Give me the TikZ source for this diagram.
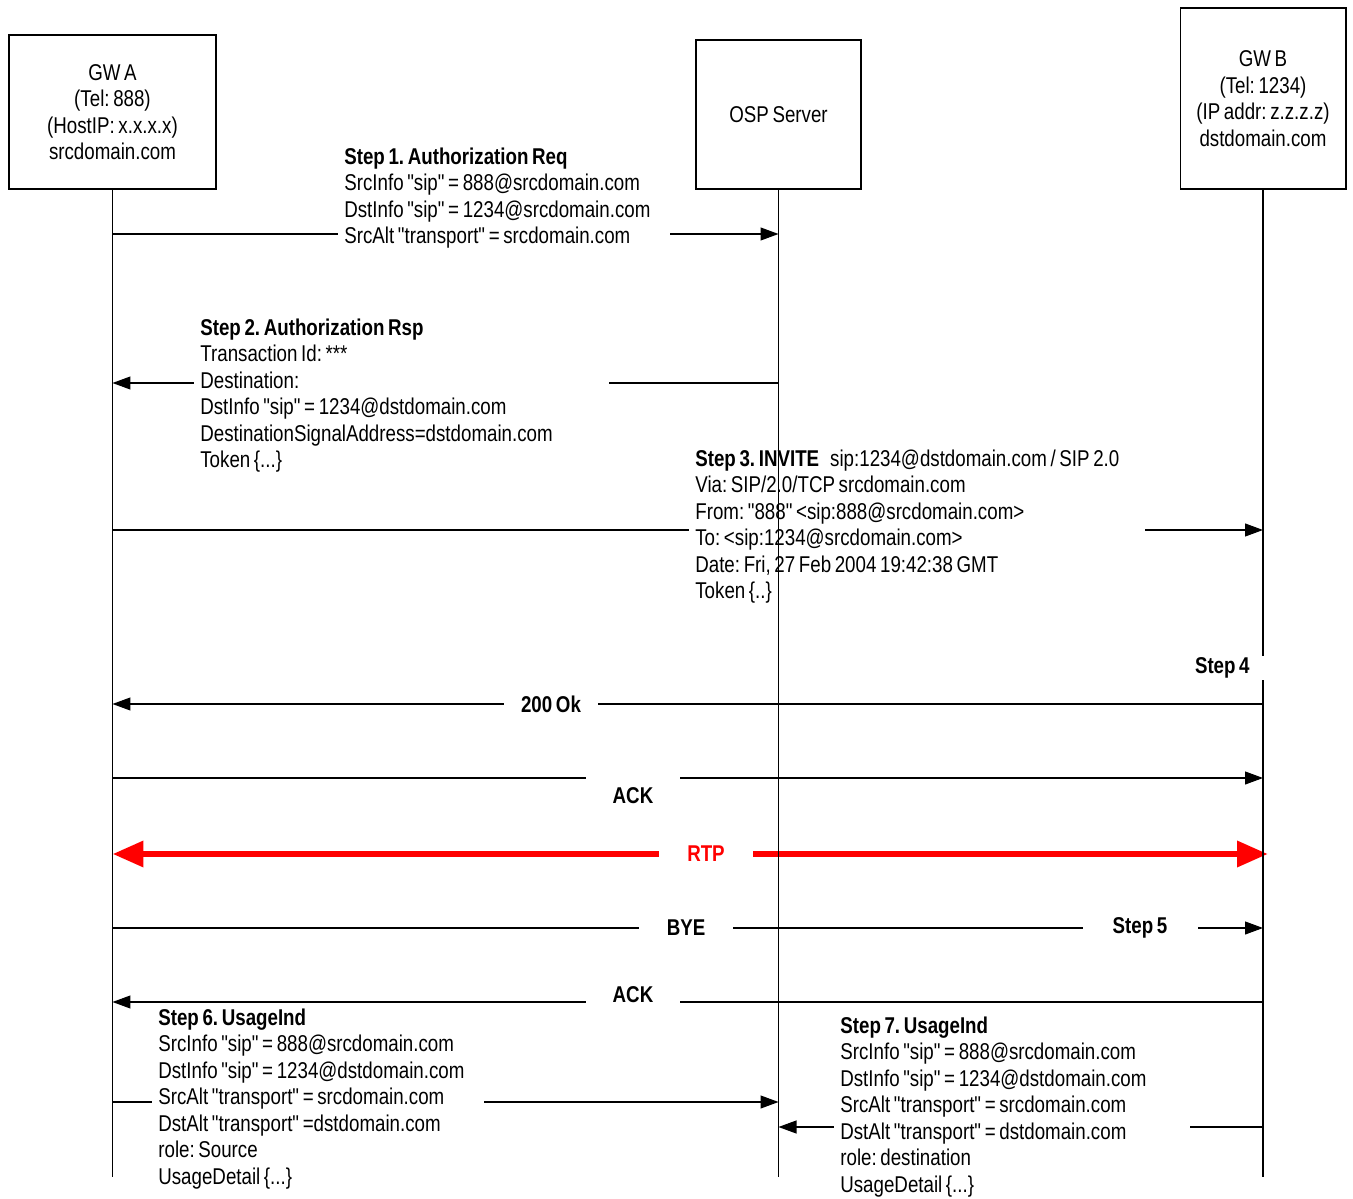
\documentclass[tikz,border=0pt]{standalone}
\usepackage{fontspec}
\setmainfont{Liberation Sans}[FakeStretch=0.82,WordSpace=0.7,Ligatures=TeXOff]
\usetikzlibrary{arrows.meta}
\frenchspacing

\begin{document}
\begin{tikzpicture}[x=0.02cm,y=-0.02cm,font=\fontsize{13}{15.08}\selectfont,
    box/.style={draw,line width=0.6pt,align=center,inner sep=0pt},
    life/.style={line width=0.6pt},
    msg/.style={line width=0.6pt,-{Triangle[length=0.36cm,width=0.26cm]}},
    note/.style={fill=white,anchor=north west,align=left,inner xsep=0.12cm,inner ysep=0.1cm,
      execute at begin node={\spaceskip=0pt\xspaceskip=0pt}},
    tag/.style={fill=white,font=\fontsize{13}{15.08}\selectfont\bfseries,minimum width=1.88cm,inner sep=0.1cm},
    rtp/.style={red,line width=0.13cm,{Triangle[length=0.62cm,width=0.5cm]}-{Triangle[length=0.62cm,width=0.5cm]}}]
    \useasboundingbox (0,0) rectangle (1353,1199);

    % the three parties
    \node[box,minimum width=4.14cm,minimum height=3.08cm] (gwa) at (112.5,112)
      {GW A\\(Tel: 888)\\(HostIP: x.x.x.x)\\srcdomain.com};
    \node[box,minimum width=3.3cm,minimum height=2.98cm] (osp) at (778.5,114.5) {OSP Server};
    \node[box,minimum width=3.32cm,minimum height=3.62cm] (gwb) at (1263,98.5)
      {GW B\\(Tel: 1234)\\(IP addr: z.z.z.z)\\dstdomain.com};

    \coordinate (bot) at (0,1177);
    \foreach \n/\y in {1/234,2/383,3/530,4/704,5/778,6/854,7/928,8/1002,9/1102,10/1127}
      \coordinate (y\n) at (0,\y);

    % Step 1
    \draw[msg] (gwa |- y1) -- (osp |- y1);
    \node[note,text width=6.4cm] (req) at (338,142.4)
      {\textbf{Step 1. Authorization Req}\\
       SrcInfo "sip" = 888@srcdomain.com\\
       DstInfo "sip" = 1234@srcdomain.com\\
       SrcAlt "transport" = srcdomain.com};

    % Step 2
    \draw[msg] (osp |- y2) -- (gwa |- y2);
    \node[note,text width=8.06cm] (rsp) at (194,313.4)
      {\textbf{Step 2. Authorization Rsp}\\
       Transaction Id: ***\\
       Destination:\\
       DstInfo "sip" = 1234@dstdomain.com\\
       DestinationSignalAddress=dstdomain.com\\
       Token \{...\}};

    % Step 3
    \draw[msg] (gwa |- y3) -- (gwb |- y3);
    \node[note,text width=8.88cm] (invite) at (689,444.4)
      {\textbf{Step 3. INVITE}\hspace{0.22cm}sip:1234@dstdomain.com / SIP 2.0\\
       Via: SIP/2.0/TCP srcdomain.com\\
       From: "888" <sip:888@srcdomain.com>\\
       To: <sip:1234@srcdomain.com>\\
       Date: Fri, 27 Feb 2004 19:42:38 GMT\\
       Token \{..\}};

    % call set-up and release
    \draw[msg] (gwb |- y4) -- (gwa |- y4);
    \node[tag] (ok) at (551,704) {200 Ok};
    \draw[msg] (gwa |- y5) -- (gwb |- y5);
    \node[tag,minimum height=0.9cm] (ack) at (633,796) {ACK};
    \draw[rtp] (gwa |- y6) -- ([xshift=0.1cm]gwb |- y6);
    \node[tag,text=red] (media) at (706,854) {RTP};
    \draw[msg] (gwa |- y7) -- (gwb |- y7);
    \node[tag] (bye) at (686,928) {BYE};
    \node[tag,minimum width=2.3cm] (step5) at (1140,928) {Step 5};
    \draw[msg] (gwb |- y8) -- (gwa |- y8);
    \node[tag] (byeack) at (633,995) {ACK};

    % Step 6 and 7
    \draw[msg] (gwa |- y9) -- (osp |- y9);
    \node[note,text width=6.4cm] (srcuse) at (152,1003.4)
      {\textbf{Step 6. UsageInd}\\
       SrcInfo "sip" = 888@srcdomain.com\\
       DstInfo "sip" = 1234@dstdomain.com\\
       SrcAlt "transport" = srcdomain.com\\
       DstAlt "transport" =dstdomain.com\\
       role: Source\\
       UsageDetail \{...\}};
    \draw[msg] (gwb |- y10) -- (osp |- y10);
    \node[note,text width=6.88cm] (dstuse) at (834,1011.4)
      {\textbf{Step 7. UsageInd}\\
       SrcInfo "sip" = 888@srcdomain.com\\
       DstInfo "sip" = 1234@dstdomain.com\\
       SrcAlt "transport" = srcdomain.com\\
       DstAlt "transport" = dstdomain.com\\
       role: destination\\
       UsageDetail \{...\}};

    % lifelines
    \draw[life] (gwa.south) -- (gwa |- bot);
    \draw[life] (osp.south) -- (osp |- bot);
    \draw[life] (gwb.south) -- (gwb |- bot);
    \node[tag,anchor=east,minimum width=0pt,inner xsep=0.32cm,inner ysep=0.04cm] (step4) at (1266,668) {Step 4};
\end{tikzpicture}
\end{document}
